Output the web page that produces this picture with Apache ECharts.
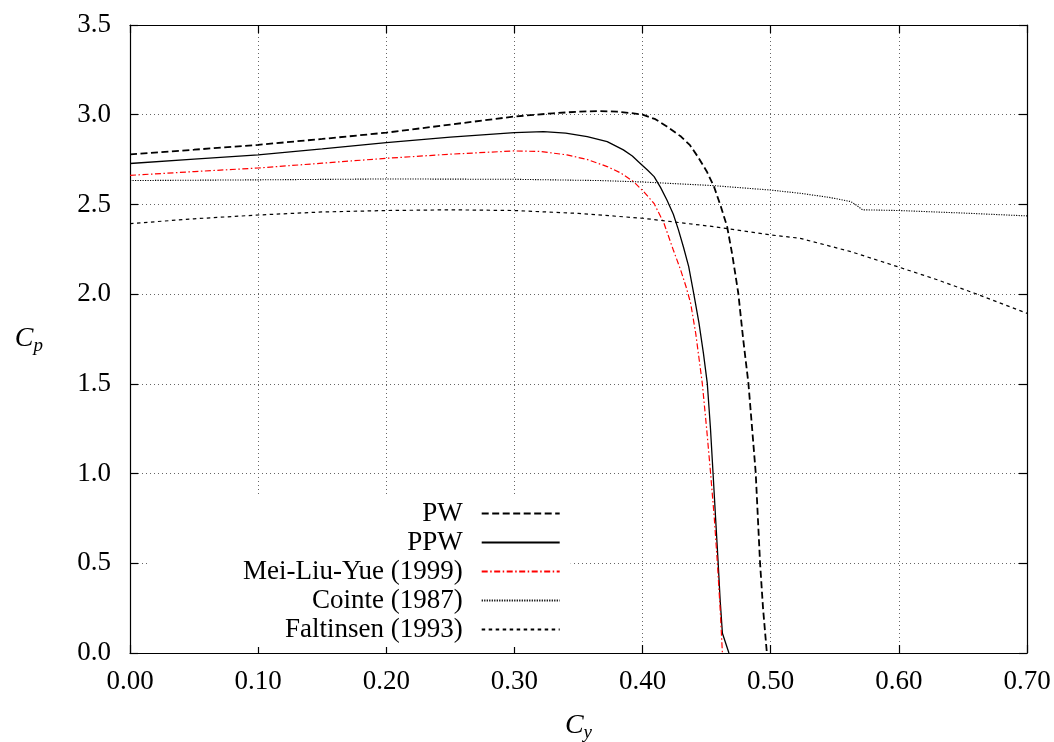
<!DOCTYPE html>
<html>
<head>
<meta charset="utf-8">
<script src="https://cdn.jsdelivr.net/npm/echarts@6/dist/echarts.min.js"></script>
<style>
html,body{margin:0;padding:0;background:#fff;}
#chart{width:1054px;height:742px;}
</style>
</head>
<body>
<div id="chart"></div>
<script>
const seriesNames = ['PW', 'PPW', 'Mei-Liu-Yue (1999)', 'Cointe (1987)', 'Faltinsen (1993)'];
const xTicks = [0, 0.1, 0.2, 0.3, 0.4, 0.5, 0.6, 0.7];
const yTicks = [0, 0.5, 1.0, 1.5, 2.0, 2.5, 3.0, 3.5];

const PW = [[0,2.779],[0.05,2.805],[0.1,2.832],[0.15,2.865],[0.2,2.90],[0.25,2.945],[0.3,2.99],[0.33,3.008],[0.35,3.017],[0.367,3.02],[0.38,3.017],[0.39,3.01],[0.40,3.0],[0.41,2.975],[0.419,2.934],[0.43,2.878],[0.437,2.83],[0.443,2.767],[0.45,2.685],[0.4557,2.60],[0.461,2.49],[0.466,2.376],[0.470,2.22],[0.4747,2.005],[0.4785,1.75],[0.4826,1.503],[0.4855,1.25],[0.4883,1.003],[0.490,0.75],[0.4917,0.50],[0.494,0.25],[0.497,0.0]];
const PPW = [[0,2.728],[0.05,2.752],[0.1,2.776],[0.15,2.81],[0.2,2.845],[0.25,2.875],[0.3,2.90],[0.3227,2.906],[0.34,2.897],[0.3568,2.878],[0.3724,2.85],[0.385,2.804],[0.392,2.77],[0.398,2.73],[0.404,2.69],[0.409,2.655],[0.414,2.595],[0.419,2.525],[0.424,2.445],[0.428,2.358],[0.432,2.26],[0.436,2.153],[0.440,2.0],[0.444,1.84],[0.4475,1.67],[0.4505,1.503],[0.453,1.25],[0.455,1.002],[0.457,0.75],[0.459,0.50],[0.4605,0.3],[0.4623,0.11],[0.4674,0.0]];
const MLY = [[0,2.662],[0.05,2.683],[0.1,2.703],[0.15,2.73],[0.2,2.757],[0.25,2.78],[0.2992,2.798],[0.3203,2.795],[0.341,2.776],[0.357,2.75],[0.3724,2.711],[0.383,2.675],[0.393,2.627],[0.401,2.57],[0.4089,2.506],[0.4167,2.395],[0.424,2.246],[0.4297,2.135],[0.434,2.04],[0.4375,1.95],[0.4415,1.78],[0.4466,1.503],[0.450,1.25],[0.4531,1.0],[0.456,0.75],[0.4584,0.5],[0.4605,0.25],[0.4623,0.0]];
const COINTE = [[0,2.633],[0.1,2.637],[0.2,2.642],[0.3,2.64],[0.367,2.633],[0.4,2.625],[0.455,2.605],[0.5,2.58],[0.523,2.562],[0.545,2.54],[0.5625,2.516],[0.567,2.495],[0.5716,2.47],[0.58,2.469],[0.60,2.466],[0.65,2.452],[0.70,2.436]];
const FALT = [[0,2.393],[0.05,2.42],[0.1,2.441],[0.15,2.458],[0.2,2.466],[0.25,2.47],[0.3,2.466],[0.35,2.45],[0.4,2.423],[0.4557,2.376],[0.5,2.33],[0.523,2.311],[0.5625,2.237],[0.599,2.153],[0.63,2.08],[0.659,2.005],[0.7,1.893]];

const FONT = 'Liberation Serif';
const chart = echarts.init(document.getElementById('chart'), null, {renderer: 'canvas'});

const gridDots = {show: true, lineStyle: {color: '#666', width: 1, type: [1, 3]}};
const axisLine = {show: true, onZero: false, lineStyle: {color: '#000', width: 1.2}};
const tick = {show: true, inside: true, length: 8, lineStyle: {color: '#000', width: 1.2}};
const nameRich = {
  c: {fontFamily: FONT, fontStyle: 'italic', fontSize: 28, color: '#000'},
  s: {fontFamily: FONT, fontStyle: 'italic', fontSize: 19, color: '#000', padding: [14, 0, 0, 0]}
};

function mk(name, data, style) {
  return {name: name, type: 'line', data: data, symbol: 'none', smooth: false,
    lineStyle: style, itemStyle: {color: style.color}, emphasis: {disabled: true}, z: 3};
}

chart.setOption({
  animation: false,
  backgroundColor: '#fff',
  grid: {left: 130, top: 25, right: 27, bottom: 89, containLabel: false, outerBoundsMode: 'none'},
  legend: {
    data: seriesNames, orient: 'vertical', align: 'right', left: 150, top: 497,
    itemWidth: 78, itemHeight: 14, itemGap: 0, selectedMode: false,
    itemStyle: {color: 'rgba(0,0,0,0)', borderWidth: 0, opacity: 0},
    backgroundColor: '#fff', padding: [2, 10, 3, 93],
    textStyle: {fontFamily: FONT, fontSize: 27, color: '#000', lineHeight: 29, padding: [0, 14, 0, 0]}
  },
  xAxis: [{
    type: 'value', position: 'bottom', min: xTicks[0], max: xTicks[xTicks.length-1], interval: 0.1,
    axisLine: axisLine, axisTick: tick, splitLine: gridDots,
    axisLabel: {margin: 15, fontFamily: FONT, fontSize: 27, color: '#000', formatter: v => v.toFixed(2)},
    name: '{c|C}{s|y}', nameLocation: 'middle', nameGap: 56, nameTextStyle: {rich: nameRich}
  }, {
    type: 'value', position: 'top', min: xTicks[0], max: xTicks[xTicks.length-1], interval: 0.1,
    axisLine: axisLine, axisTick: tick, splitLine: {show: false}, axisLabel: {show: false}
  }],
  yAxis: [{
    type: 'value', position: 'left', min: yTicks[0], max: yTicks[yTicks.length-1], interval: 0.5,
    axisLine: axisLine, axisTick: tick, splitLine: gridDots,
    axisLabel: {margin: 19, fontFamily: FONT, fontSize: 27, color: '#000', formatter: v => v.toFixed(1)},
    name: '{c|C}{s|p}', nameLocation: 'middle', nameRotate: 0, nameGap: 87, nameTextStyle: {rich: nameRich}
  }, {
    type: 'value', position: 'right', min: yTicks[0], max: yTicks[yTicks.length-1], interval: 0.5,
    axisLine: axisLine, axisTick: tick, splitLine: {show: false}, axisLabel: {show: false}
  }],
  series: [
    mk(seriesNames[0], PW, {color: '#000', width: 1.8, type: [7, 3.5]}),
    mk(seriesNames[1], PPW, {color: '#000', width: 1.3, type: 'solid'}),
    mk(seriesNames[2], MLY, {color: '#ff0000', width: 1.2, type: [6, 2.5, 1.5, 2.5]}),
    mk(seriesNames[3], COINTE, {color: '#000', width: 1.1, type: [1.2, 1.3]}),
    mk(seriesNames[4], FALT, {color: '#000', width: 1.2, type: [3.5, 3.5]})
  ]
});
</script>
</body>
</html>
